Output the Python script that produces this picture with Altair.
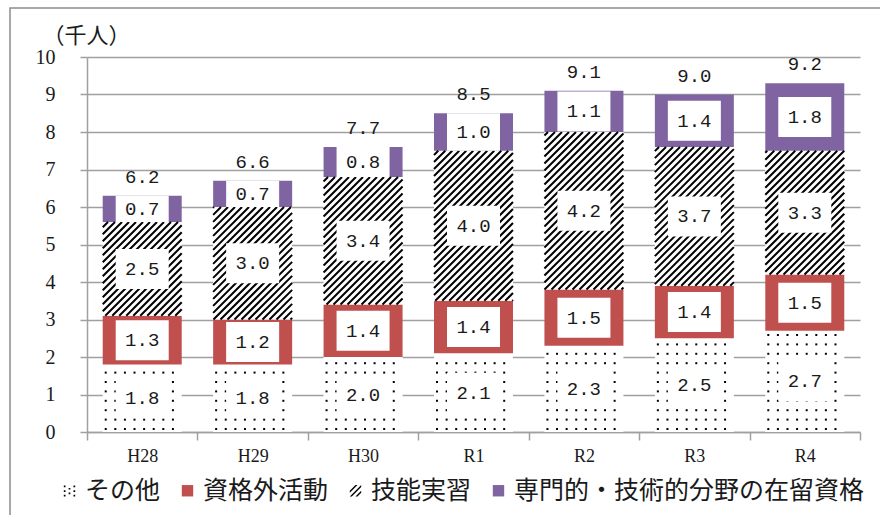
import altair as alt
import pandas as pd

# ---- data ----
years = ["H28", "H29", "H30", "R1", "R2", "R3", "R4"]
cats = ["その他", "資格外活動", "技能実習", "専門的・技術的分野の在留資格"]
sonota = [1.8, 1.8, 2.0, 2.1, 2.3, 2.5, 2.7]
shikakugai = [1.3, 1.2, 1.4, 1.4, 1.5, 1.4, 1.5]
ginou = [2.5, 3.0, 3.4, 4.0, 4.2, 3.7, 3.3]
senmon = [0.7, 0.7, 0.8, 1.0, 1.1, 1.4, 1.8]
totals = [6.2, 6.6, 7.7, 8.5, 9.1, 9.0, 9.2]
y_ticks = list(range(0, 11))

# ---- layout ----
W, H = 773, 375
N = len(years)
PX_X = W / N
PX_Y = H / 10
BAR_W = 79
BOX_W, BOX_H = 53, 40

RED = "#C0504D"
PURPLE = "#8064A2"
GRID = "#A0A0A0"
TXT = "#1a1a1a"
SERIF = "Liberation Serif"
MONO = "Liberation Mono"
JP = "Noto Sans CJK JP"
seg_fill = {cats[0]: "white", cats[1]: RED, cats[2]: "white", cats[3]: PURPLE}

series = [sonota, shikakugai, ginou, senmon]
seg_rows = []
for i, y in enumerate(years):
    base = 0.0
    for c, s in zip(cats, series):
        v = s[i]
        mid = base + v / 2
        h = min(BOX_H / PX_Y, v)
        seg_rows.append(dict(year=y, cat=c, value=v, y0=base, y1=base + v,
                             mid=mid, blo=mid - h / 2, bhi=mid + h / 2,
                             fillc=seg_fill[c]))
        base += v
seg = pd.DataFrame(seg_rows)
tot = pd.DataFrame(dict(year=years, total=totals,
                        top=[a + b + c + d for a, b, c, d in zip(*series)]))

# ---- pattern geometry derived from the segments ----
dot_rows = []
for i in range(N):
    xl = i * PX_X + (PX_X - BAR_W) / 2
    ytop = sonota[i] * PX_Y
    yy = 3.0
    while yy < ytop - 2:
        for k in range(8):
            xx = xl + 3 + k * 9.6
            dot_rows.append(dict(xq=xx / PX_X, yq=yy / PX_Y))
        yy += 9.4
dots = pd.DataFrame(dot_rows)

hatch_rows = []
STEP = 7.0     # horizontal spacing of the hatch lines, px (45 degrees)
for i in range(N):
    X0 = i * PX_X + (PX_X - BAR_W) / 2
    X1 = X0 + BAR_W
    Y0 = (sonota[i] + shikakugai[i]) * PX_Y
    Y1 = Y0 + ginou[i] * PX_Y
    k = int((Y0 - X1) // STEP)
    while k * STEP <= Y1 - X0:
        c = k * STEP
        lo = max(X0, Y0 - c)
        hi = min(X1, Y1 - c)
        if hi - lo > 0.5:
            hatch_rows.append(dict(xa=lo / PX_X, ya=(lo + c) / PX_Y,
                                   xb=hi / PX_X, yb=(hi + c) / PX_Y))
        k += 1
hatch = pd.DataFrame(hatch_rows)

# ---- scales / axes ----
yscale = alt.Scale(domain=[0, 10], nice=False, zero=True)
yaxis = alt.Axis(values=y_ticks, grid=True, gridColor=GRID, gridWidth=1.5,
                 domainColor=GRID, domainWidth=1.5, tickColor=GRID, tickWidth=1.5,
                 tickSize=7, labelFont=SERIF, labelFontSize=20, labelColor=TXT,
                 labelPadding=25, title="（千人）", titleAngle=0, titleFont=JP,
                 titleFontSize=22, titleFontWeight="normal", titleColor=TXT,
                 titleAlign="left", titleBaseline="alphabetic", titleX=-45, titleY=-15)
xnom = alt.Scale(domain=years, paddingInner=0, paddingOuter=0)
xq = alt.Scale(domain=[0, N], nice=False, zero=False)

def sq(x, y, s=0.3):
    return f"M{x},{y}L{x + s},{y}L{x + s},{y + s}L{x},{y + s}Z"

dots_path = " ".join([sq(-1, -0.9), sq(-1, -0.1), sq(-1, 0.7),
                      sq(-0.15, -0.5), sq(-0.15, 0.3),
                      sq(0.7, -0.9), sq(0.7, -0.1), sq(0.7, 0.7)])
hatch_path = ("M-1,0L0,-1L0.35,-1L-1,0.35Z M-1,1L1,-1L1,-0.65L-0.65,1Z "
              "M0,1L1,0L1,0.35L0.35,1Z")

legend = alt.Legend(title=None, orient="none", direction="horizontal",
                    legendX=-30, legendY=421, labelFont=JP, labelFontSize=25,
                    labelColor=TXT, symbolSize=130, labelOffset=3, columnPadding=14,
                    symbolStrokeWidth=0, symbolOpacity=1, labelLimit=500)

frame = alt.Chart(pd.DataFrame({"k": [0]})).mark_rect(
    fill="transparent", stroke="#8c8c8c", strokeWidth=1.5).encode(
    x=alt.value(-77), x2=alt.value(W + 60), y=alt.value(-49), y2=alt.value(H + 120))

bars = alt.Chart(seg).mark_bar(width=BAR_W).encode(
    x=alt.X("year:N", scale=xnom, sort=years,
            axis=alt.Axis(title=None, labelAngle=0, tickBand="extent", tickSize=8,
                          tickColor=GRID, tickWidth=1.5, domainColor=GRID, domainWidth=1.5,
                          labelFont=SERIF, labelFontSize=18, labelColor=TXT,
                          labelPadding=7, grid=False)),
    y=alt.Y("y0:Q", scale=yscale, axis=yaxis),
    y2="y1:Q",
    fill=alt.Fill("fillc:N", scale=None),
)

# legend carrier: its symbols sit at the label centres, hidden under the label boxes
legend_pts = alt.Chart(seg).mark_point(filled=True, size=130, opacity=1).encode(
    x=alt.X("year:N", scale=xnom, sort=years, axis=None),
    y=alt.Y("mid:Q", scale=yscale, axis=yaxis),
    color=alt.Color("cat:N", scale=alt.Scale(domain=cats,
                    range=["black", RED, "black", PURPLE]), legend=legend),
    shape=alt.Shape("cat:N", scale=alt.Scale(domain=cats,
                    range=[dots_path, "square", hatch_path, "square"]), legend=legend),
)

dot_layer = alt.Chart(dots).mark_square(size=4, color="black", opacity=1).encode(
    x=alt.X("xq:Q", scale=xq, axis=None),
    y=alt.Y("yq:Q", scale=yscale, axis=yaxis),
)

hatch_layer = alt.Chart(hatch).mark_rule(color="black", strokeWidth=2).encode(
    x=alt.X("xa:Q", scale=xq, axis=None), x2="xb:Q",
    y=alt.Y("ya:Q", scale=yscale, axis=yaxis), y2="yb:Q",
)

boxes = alt.Chart(seg).mark_bar(width=BOX_W, color="white").encode(
    x=alt.X("year:N", scale=xnom, sort=years, axis=None),
    y=alt.Y("blo:Q", scale=yscale, axis=yaxis), y2="bhi:Q",
)

seg_text = alt.Chart(seg).mark_text(font=MONO, fontSize=19, color=TXT).encode(
    x=alt.X("year:N", scale=xnom, sort=years, axis=None),
    y=alt.Y("mid:Q", scale=yscale, axis=yaxis),
    text=alt.Text("value:Q", format=".1f"),
)

tot_text = alt.Chart(tot).mark_text(font=MONO, fontSize=19, color=TXT,
                                    baseline="bottom", dy=-9).encode(
    x=alt.X("year:N", scale=xnom, sort=years, axis=None),
    y=alt.Y("top:Q", scale=yscale, axis=yaxis),
    text=alt.Text("total:Q", format=".1f"),
)

chart = alt.layer(frame, bars, legend_pts, dot_layer, hatch_layer, boxes,
                  seg_text, tot_text).resolve_scale(
    x="independent"
).properties(
    width=W, height=H,
    padding={"left": 87, "top": 57, "right": 20, "bottom": 83},
    autosize=alt.AutoSizeParams(type="none"),
).configure_view(stroke=None)

chart.save("out.html", embed_options={"renderer": "svg", "actions": False})
